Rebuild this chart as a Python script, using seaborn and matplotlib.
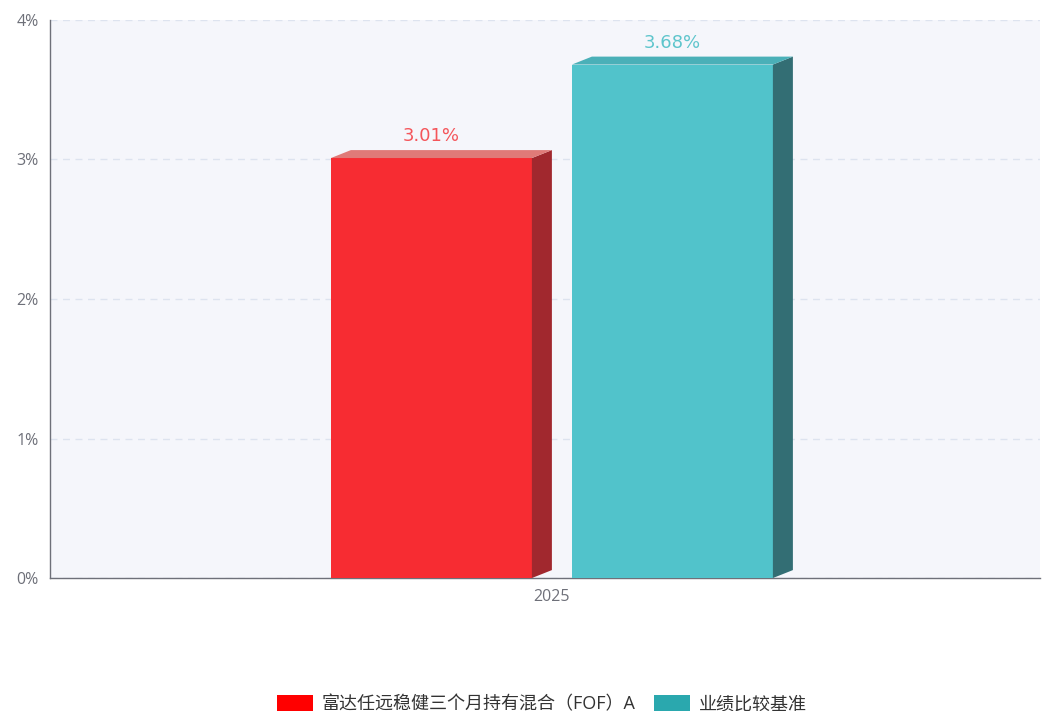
import matplotlib
matplotlib.use('Agg')
import matplotlib.pyplot as plt
from matplotlib.patches import Polygon, Patch
import seaborn as sns
import pandas as pd

years = ['2025']
series = ['富达任远稳健三个月持有混合（FOF）A', '业绩比较基准']
values = [3.01, 3.68]
yticks = [0, 1, 2, 3, 4]

front_colors = ['#f72c32', '#51c3cb']
side_colors = ['#a1282e', '#336e74']
top_colors = ['#e07a78', '#4ab0b8']
label_colors = ['#f4555a', '#5ec5cc']
legend_colors = ['#ff0000', '#2aa8ae']

df = pd.DataFrame({'year': years * len(series), 'fund': series, 'value': values})

sns.set_style('white')
plt.rcParams['font.family'] = ['Open Sans', 'Noto Sans CJK SC', 'DejaVu Sans']

fig = plt.figure(figsize=(10.42, 7.11), dpi=100)
ax = fig.add_axes([0.048, 0.187, 0.950, 0.785])
ax.set_facecolor('#f5f6fb')

sns.barplot(data=df, x='year', y='value', hue='fund', palette=front_colors,
            saturation=1, width=0.8, gap=0.166, legend=False, ax=ax,
            zorder=3, linewidth=0)

ax.set_xlim(-0.833, 0.81)
ax.set_ylim(0, 4)

# fake 3d depth
dx, dy = 0.0332, 0.057
for i, p in enumerate(ax.patches[:len(values)]):
    x0 = p.get_x()
    x1 = x0 + p.get_width()
    h = p.get_height()
    side = Polygon([[x1, 0], [x1 + dx, dy], [x1 + dx, h + dy], [x1, h]],
                   closed=True, facecolor=side_colors[i], edgecolor='none', zorder=3)
    top = Polygon([[x0, h], [x0 + dx, h + dy], [x1 + dx, h + dy], [x1, h]],
                  closed=True, facecolor=top_colors[i], edgecolor='none', zorder=3)
    ax.add_patch(side)
    ax.add_patch(top)
    ax.text(x0 + (x1 - x0) / 2, h + dy + 0.035, f'{values[i]:.2f}%',
            ha='center', va='bottom', fontsize=13, color=label_colors[i],
            family=['DejaVu Sans'])

ax.set_yticks(yticks)
ax.set_yticklabels([f'{t}%' for t in yticks])
ax.yaxis.grid(True, linestyle=(0, (5, 4)), color='#dde3ef', linewidth=1, zorder=0)
ax.set_axisbelow(True)
ax.set_xlabel('')
ax.set_ylabel('')
ax.tick_params(axis='both', colors='#6e7079', labelsize=11.5, length=0, pad=8)
for s in ['top', 'right']:
    ax.spines[s].set_visible(False)
for s in ['left', 'bottom']:
    ax.spines[s].set_color('#6e7079')
    ax.spines[s].set_linewidth(1)

handles = [Patch(facecolor=c, edgecolor='none') for c in legend_colors]
fig.legend(handles, series, loc='center', bbox_to_anchor=(0.52, 0.01), ncol=2,
           frameon=False, fontsize=13, handlelength=2.0, handleheight=1.0,
           columnspacing=1.0, handletextpad=0.5, labelcolor='#333333')

fig.savefig('out.png', dpi=100)
